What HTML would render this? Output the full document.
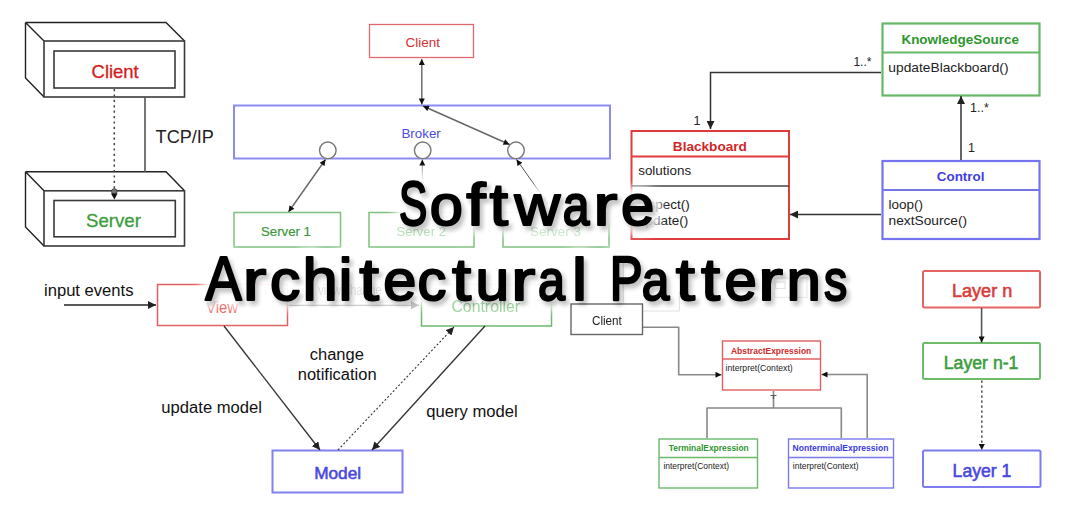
<!DOCTYPE html>
<html><head><meta charset="utf-8">
<style>
html,body{margin:0;padding:0;background:#fff;}
body{width:1080px;height:516px;overflow:hidden;position:relative;font-family:"Liberation Sans",sans-serif;}
svg{position:absolute;left:0;top:0;}
.t{font-family:"Liberation Sans",sans-serif;}
.tl{position:absolute;left:0;top:0;}
.tl text{vector-effect:non-scaling-stroke;}
</style></head>
<body>
<svg width="1080" height="516" viewBox="0 0 1080 516">
<defs>
<marker id="ah" viewBox="0 0 10 10" refX="10" refY="5" markerWidth="8" markerHeight="8" markerUnits="userSpaceOnUse" orient="auto-start-reverse"><path d="M0,0 L10,5 L0,10 z" fill="#222"/></marker>
<marker id="ahs" viewBox="0 0 10 10" refX="10" refY="5" markerWidth="6.5" markerHeight="6" markerUnits="userSpaceOnUse" orient="auto-start-reverse"><path d="M0,0 L10,5 L0,10 z" fill="#111"/></marker>
<marker id="ahl" viewBox="0 0 10 10" refX="10" refY="5" markerWidth="8" markerHeight="8" markerUnits="userSpaceOnUse" orient="auto-start-reverse"><path d="M0,0 L10,5 L0,10 z" fill="#c8c8c8"/></marker>
</defs>
<g fill="none" stroke="#3a3a3a" stroke-width="1.6">
<!-- client 3d -->
<path d="M25.5,22.5 H166 L184.5,41 M25.5,22.5 L44,41 M25.5,22.5 V78 L44,97" stroke="#222" stroke-width="1.4"/>
<rect x="44" y="41" width="140.5" height="56"/>
<rect x="54" y="51" width="121" height="37"/>
<!-- server 3d -->
<path d="M25.5,171.8 H166 L184.5,190.8 M25.5,171.8 L44,190.8 M25.5,171.8 V227 L44,246" stroke="#222" stroke-width="1.4"/>
<rect x="44" y="190.8" width="140.5" height="55.2"/>
<rect x="54" y="200.5" width="121.3" height="36.3"/>
<line x1="145" y1="97" x2="145" y2="172" stroke="#555"/>
<line x1="114.3" y1="89" x2="114.3" y2="189" stroke="#444" stroke-width="1.5" stroke-dasharray="2.2,3.2"/>
</g>
<circle cx="114.3" cy="191.5" r="2.8" fill="#777" stroke="#333" stroke-width="0.8"/>
<path d="M111,193.5 L117.6,193.5 L114.3,199.5 z" fill="#111"/>

<!-- broker -->
<rect x="369.5" y="24.5" width="104" height="33" fill="none" stroke="#e06a6a" stroke-width="1.3"/>
<rect x="234" y="105.5" width="376" height="53" fill="none" stroke="#8c8cf0" stroke-width="2"/>
<g fill="#fff" stroke="#777" stroke-width="1.4">
<circle cx="327.8" cy="150.3" r="8.3"/>
<circle cx="422.7" cy="150.3" r="8.3"/>
<circle cx="516" cy="150.3" r="8.3"/>
</g>
<g stroke="#666" stroke-width="1.4" fill="none">
<line x1="421.8" y1="59" x2="421.8" y2="104.5" marker-start="url(#ahs)" marker-end="url(#ahs)"/>
<line x1="423" y1="106" x2="509.5" y2="144.5" marker-start="url(#ahs)" marker-end="url(#ahs)"/>
<line x1="325.5" y1="159.5" x2="288.5" y2="212" marker-start="url(#ahs)" marker-end="url(#ahs)"/>
<line x1="422.3" y1="212" x2="422.3" y2="159.5" marker-end="url(#ahs)" stroke="#999" stroke-width="1"/>
<line x1="548" y1="204" x2="516.5" y2="159.5" marker-end="url(#ahs)" stroke="#555" stroke-width="1"/>
</g>
<g fill="none" stroke="#7ec07e" stroke-width="1.5">
<rect x="234" y="212.5" width="106.5" height="34.5"/>
<rect x="369" y="212.5" width="105" height="34.5"/>
<rect x="503" y="212.5" width="106" height="34.5"/>
</g>

<!-- blackboard -->
<g fill="none" stroke-width="2">
<rect x="631.5" y="131" width="157.5" height="108" stroke="#e03c3c"/>
<line x1="631.5" y1="156.5" x2="789" y2="156.5" stroke="#e03c3c"/>
<line x1="631.5" y1="186" x2="789" y2="186" stroke="#444" stroke-width="1.4"/>
<rect x="882.5" y="23.5" width="157" height="72" stroke="#66b866" stroke-width="2.2"/>
<line x1="882.5" y1="52.5" x2="1039.5" y2="52.5" stroke="#66b866" stroke-width="2.2"/>
<rect x="882.5" y="161" width="157" height="78" stroke="#7474ec" stroke-width="2.2"/>
<line x1="882.5" y1="190" x2="1039.5" y2="190" stroke="#7474ec" stroke-width="2.2"/>
</g>
<g stroke="#333" stroke-width="1.5" fill="none">
<path d="M881,72.5 H710.5 V129" marker-end="url(#ah)"/>
<line x1="961" y1="160" x2="961" y2="96" marker-end="url(#ah)"/>
<line x1="881" y1="214.5" x2="790" y2="214.5" marker-end="url(#ah)"/>
</g>

<!-- MVC -->
<line x1="64" y1="305" x2="156" y2="305" stroke="#222" stroke-width="1.5" marker-end="url(#ah)"/>
<rect x="157.5" y="284.5" width="130" height="41" fill="none" stroke="#e06060" stroke-width="1.5"/>
<rect x="421.5" y="284.5" width="130" height="41.5" fill="none" stroke="#6cb86c" stroke-width="1.5"/>

<rect x="272.5" y="450.5" width="130" height="42" fill="none" stroke="#8080ee" stroke-width="2"/>
<g stroke="#333" stroke-width="1.35" fill="none">
<line x1="224" y1="326" x2="320" y2="450" marker-end="url(#ah)"/>
<line x1="485" y1="326" x2="372" y2="450" marker-end="url(#ah)"/>
<line x1="338" y1="450" x2="454" y2="327" stroke-dasharray="2,2" stroke-width="1.1" marker-end="url(#ah)"/>
</g>

<!-- interpreter -->
<g stroke="#888" stroke-width="1.6" fill="none" stroke-linejoin="round">
<path d="M643,327.3 H678.7 V374.8 H721.5" marker-end="url(#ahs)"/>
<path d="M867.2,438 V374.5 H821.5" marker-end="url(#ahs)"/>
<path d="M773.5,391 V408 M707,438 V408 H841.3 V438"/>
</g>
<path d="M770.5,395.5 H776.5 M773.5,395.5 V399" stroke="#555" stroke-width="1.2"/>
<g fill="none" stroke-width="1.4">
<rect x="722.5" y="341" width="98" height="49" stroke="#e06060"/>
<line x1="722.5" y1="359" x2="820.5" y2="359" stroke="#e06060"/>
<rect x="659" y="439" width="98.5" height="49" stroke="#6cb86c"/>
<line x1="659" y1="457.5" x2="757.5" y2="457.5" stroke="#6cb86c"/>
<rect x="788.5" y="439" width="105" height="49" stroke="#7a7aee"/>
<line x1="788.5" y1="457.5" x2="893.5" y2="457.5" stroke="#7a7aee"/>
</g>

<!-- layers -->
<g fill="none" stroke-width="2">
<rect x="923" y="271" width="117" height="36.5" rx="1.5" stroke="#e46464"/>
<rect x="923" y="343" width="117" height="36" rx="1.5" stroke="#6cbc6c"/>
<rect x="923" y="450.5" width="117.5" height="36.5" rx="1.5" stroke="#7c7cee"/>
</g>
<line x1="981.6" y1="308" x2="981.6" y2="342.5" stroke="#555" stroke-width="1.6" marker-end="url(#ahs)"/>
<line x1="981.8" y1="380.5" x2="981.8" y2="450" stroke="#555" stroke-width="1.6" stroke-dasharray="2.2,2.8" marker-end="url(#ahs)"/>

<text class="t" id="c3c" x="91.60" y="77.7" font-size="18.5" font-weight="normal" fill="#d42020" textLength="47.11" lengthAdjust="spacingAndGlyphs" stroke="#d42020" stroke-width="0.3">Client</text>
<text class="t" id="c3s" x="85.99" y="226.7" font-size="18.5" font-weight="normal" fill="#3c9c3c" textLength="55.00" lengthAdjust="spacingAndGlyphs" stroke="#3c9c3c" stroke-width="0.3">Server</text>
<text class="t" id="tcp" x="155.59" y="142.7" font-size="18.5" font-weight="normal" fill="#222" textLength="58.33" lengthAdjust="spacingAndGlyphs">TCP/IP</text>
<text class="t" id="bcl" x="405.60" y="47" font-size="13.5" font-weight="normal" fill="#d83030" textLength="34.42" lengthAdjust="spacingAndGlyphs">Client</text>
<text class="t" id="brk" x="401.41" y="137.7" font-size="13.5" font-weight="normal" fill="#4a4ae6" textLength="39.37" lengthAdjust="spacingAndGlyphs">Broker</text>
<text class="t" id="sv1" x="261.02" y="235.6" font-size="13.5" font-weight="normal" fill="#3c9a3c" textLength="49.91" lengthAdjust="spacingAndGlyphs" stroke="#3c9a3c" stroke-width="0.2">Server 1</text>
<text class="t" id="bbt" x="672.80" y="150.9" font-size="13.5" font-weight="bold" fill="#d02828" textLength="74.14" lengthAdjust="spacingAndGlyphs">Blackboard</text>
<text class="t" id="sol" x="638.20" y="175.4" font-size="13.5" font-weight="normal" fill="#222" textLength="53.00" lengthAdjust="spacingAndGlyphs">solutions</text>
<text class="t" id="ins" x="638.00" y="208.8" font-size="13.5" font-weight="normal" fill="#222">inspect()</text>
<text class="t" id="upd" x="638.00" y="224.9" font-size="13.5" font-weight="normal" fill="#222">update()</text>
<text class="t" id="kst" x="901.40" y="43.7" font-size="13.5" font-weight="bold" fill="#2e962e" textLength="117.68" lengthAdjust="spacingAndGlyphs">KnowledgeSource</text>
<text class="t" id="ubb" x="888.39" y="71.5" font-size="13.5" font-weight="normal" fill="#222" textLength="120.14" lengthAdjust="spacingAndGlyphs">updateBlackboard()</text>
<text class="t" id="ctl" x="936.80" y="180.6" font-size="13.5" font-weight="bold" fill="#4040e0" textLength="47.70" lengthAdjust="spacingAndGlyphs">Control</text>
<text class="t" id="lop" x="888.60" y="209.4" font-size="13.5" font-weight="normal" fill="#222">loop()</text>
<text class="t" id="nxs" x="888.60" y="224.9" font-size="13.5" font-weight="normal" fill="#222" textLength="78.50" lengthAdjust="spacingAndGlyphs">nextSource()</text>
<text class="t" id="m1a" x="853.43" y="65.5" font-size="12.5" font-weight="normal" fill="#222" textLength="18.04" lengthAdjust="spacingAndGlyphs">1..*</text>
<text class="t" id="m1b" x="693.60" y="124.5" font-size="12.5" font-weight="normal" fill="#222">1</text>
<text class="t" id="m2a" x="970.00" y="111.7" font-size="12.5" font-weight="normal" fill="#222">1..*</text>
<text class="t" id="m2b" x="968.00" y="152" font-size="12.5" font-weight="normal" fill="#222">1</text>
<text class="t" id="inp" x="43.98" y="295.75" font-size="16" font-weight="normal" fill="#111" textLength="89.54" lengthAdjust="spacingAndGlyphs">input events</text>
<text class="t" id="viw" x="206.00" y="312.5" font-size="16" font-weight="normal" fill="#ee5c5c" textLength="32.18" lengthAdjust="spacingAndGlyphs">View</text>
<text class="t" id="mdl" x="314.19" y="478.9" font-size="17" font-weight="normal" fill="#4848e0" textLength="46.93" lengthAdjust="spacingAndGlyphs" stroke="#4848e0" stroke-width="0.55">Model</text>
<text class="t" id="chg" x="309.78" y="360.4" font-size="16" font-weight="normal" fill="#111" textLength="54.12" lengthAdjust="spacingAndGlyphs">change</text>
<text class="t" id="ntf" x="297.78" y="380" font-size="16" font-weight="normal" fill="#111" textLength="78.82" lengthAdjust="spacingAndGlyphs">notification</text>
<text class="t" id="upm" x="161.37" y="412.7" font-size="16" font-weight="normal" fill="#111" textLength="100.61" lengthAdjust="spacingAndGlyphs">update model</text>
<text class="t" id="qry" x="426.39" y="417" font-size="16" font-weight="normal" fill="#111" textLength="91.39" lengthAdjust="spacingAndGlyphs">query model</text>
<text class="t" id="abs" x="730.99" y="353.5" font-size="8.6" font-weight="bold" fill="#d02828" textLength="80.31" lengthAdjust="spacingAndGlyphs">AbstractExpression</text>
<text class="t" id="in1" x="725.60" y="371.3" font-size="8.7" font-weight="normal" fill="#222" textLength="67.11" lengthAdjust="spacingAndGlyphs">interpret(Context)</text>
<text class="t" id="ter" x="668.79" y="451.3" font-size="8.6" font-weight="bold" fill="#2e962e" textLength="79.93" lengthAdjust="spacingAndGlyphs">TerminalExpression</text>
<text class="t" id="in2" x="663.39" y="468.8" font-size="8.7" font-weight="normal" fill="#222" textLength="65.82" lengthAdjust="spacingAndGlyphs">interpret(Context)</text>
<text class="t" id="non" x="792.60" y="451.3" font-size="8.6" font-weight="bold" fill="#3a3ae0" textLength="95.77" lengthAdjust="spacingAndGlyphs">NonterminalExpression</text>
<text class="t" id="in3" x="792.80" y="468.8" font-size="8.7" font-weight="normal" fill="#222" textLength="65.82" lengthAdjust="spacingAndGlyphs">interpret(Context)</text>
<text class="t" id="lyn" x="951.97" y="297.1" font-size="17.5" font-weight="normal" fill="#dc3a3a" textLength="60.32" lengthAdjust="spacingAndGlyphs" stroke="#dc3a3a" stroke-width="0.55">Layer n</text>
<text class="t" id="ly1n" x="943.79" y="368.5" font-size="17.5" font-weight="normal" fill="#3c9c3c" textLength="74.65" lengthAdjust="spacingAndGlyphs" stroke="#3c9c3c" stroke-width="0.55">Layer n-1</text>
<text class="t" id="ly1" x="952.60" y="477" font-size="17.5" font-weight="normal" fill="#4848e0" textLength="58.78" lengthAdjust="spacingAndGlyphs" stroke="#4848e0" stroke-width="0.55">Layer 1</text>
</svg>
<svg class="tl" width="1080" height="516"><defs><filter id="hb" x="-20%" y="-50%" width="140%" height="200%"><feGaussianBlur stdDeviation="4"/></filter></defs><g font-family="Liberation Sans" font-size="63" fill="#fff" stroke="#fff" stroke-width="18" stroke-linejoin="round" filter="url(#hb)" opacity="0.95" style="vector-effect:non-scaling-stroke"><text transform="translate(398.94,224.6) scale(0.6720,0.99)">S</text>
<text transform="translate(429.63,224.6) scale(0.9443,0.905)">o</text>
<text transform="translate(466.37,224.6) scale(1.1086,0.95)">f</text>
<text transform="translate(489.48,224.6) scale(1.0629,0.95)">t</text>
<text transform="translate(514.50,224.6) scale(1.0043,0.905)">w</text>
<text transform="translate(562.64,224.6) scale(0.7612,0.905)">a</text>
<text transform="translate(593.13,224.6) scale(1.1576,0.905)">r</text>
<text transform="translate(621.11,224.6) scale(0.9508,0.905)">e</text>
<text transform="translate(205.23,300.2) scale(0.8675,0.99)">A</text>
<text transform="translate(242.76,300.2) scale(1.1273,0.905)">r</text>
<text transform="translate(270.09,300.2) scale(0.9600,0.905)">c</text>
<text transform="translate(302.38,300.2) scale(1.0036,0.95)">h</text>
<text transform="translate(338.50,300.2) scale(1.0000,0.95)">i</text>
<text transform="translate(359.37,300.2) scale(1.1257,0.95)">t</text>
<text transform="translate(383.33,300.2) scale(0.9443,0.905)">e</text>
<text transform="translate(417.59,300.2) scale(0.9164,0.905)">c</text>
<text transform="translate(451.88,300.2) scale(1.0971,0.95)">t</text>
<text transform="translate(475.53,300.2) scale(0.9600,0.905)">u</text>
<text transform="translate(511.00,300.2) scale(1.1636,0.905)">r</text>
<text transform="translate(537.92,300.2) scale(0.7701,0.905)">a</text>
<text transform="translate(571.64,300.2) scale(1.1077,0.95)">l</text>
<text transform="translate(609.72,300.2) scale(0.7826,0.99)">P</text>
<text transform="translate(641.68,300.2) scale(0.7881,0.905)">a</text>
<text transform="translate(675.68,300.2) scale(1.0971,0.95)">t</text>
<text transform="translate(700.98,300.2) scale(1.0914,0.95)">t</text>
<text transform="translate(724.48,300.2) scale(0.9213,0.905)">e</text>
<text transform="translate(757.88,300.2) scale(1.1939,0.905)">r</text>
<text transform="translate(786.38,300.2) scale(0.9818,0.905)">n</text>
<text transform="translate(823.93,300.2) scale(0.7368,0.905)">s</text></g></svg>
<svg width="1080" height="516" viewBox="0 0 1080 516">
<g fill="none" stroke="#e2e2e2" stroke-width="1.2">
<path d="M623.3,262 V311 H679.4 V292"/>
<rect x="774.5" y="278" width="32.5" height="19.5" stroke="#ececec"/>
<rect x="775.5" y="282" width="9.5" height="6.5" stroke="#e4e4e4"/>
</g>
<rect x="571" y="304" width="71.5" height="30.5" fill="#fff" stroke="#666" stroke-width="1.4"/>
<defs><marker id="ahl2" viewBox="0 0 10 10" refX="10" refY="5" markerWidth="8" markerHeight="8" markerUnits="userSpaceOnUse" orient="auto"><path d="M0,0 L10,5 L0,10 z" fill="#c4c4c4"/></marker></defs>
<line x1="289" y1="305.3" x2="419" y2="305.3" stroke="#cfcfcf" stroke-width="1.3" marker-end="url(#ahl2)"/>
<text class="t" id="sv2" x="396.41" y="236" font-size="13.5" font-weight="normal" fill="#b8dfb8" textLength="49.53" lengthAdjust="spacingAndGlyphs">Server 2</text>
<text class="t" id="sv3" x="530.00" y="236" font-size="13.5" font-weight="normal" fill="#cce8cc" textLength="51.03" lengthAdjust="spacingAndGlyphs">Server 3</text>
<text class="t" id="cnt" x="451.40" y="311.6" font-size="16" font-weight="normal" fill="#a0d4a0" textLength="68.67" lengthAdjust="spacingAndGlyphs">Controller</text>
<text class="t" id="vch" x="318.00" y="294.5" font-size="14" font-weight="normal" fill="#e2e2e2" textLength="63.86" lengthAdjust="spacingAndGlyphs">view change</text>
<text class="t" id="icl" x="592.00" y="324.5" font-size="12.5" font-weight="normal" fill="#222" textLength="29.84" lengthAdjust="spacingAndGlyphs">Client</text>
</svg>
<svg class="tl" width="1080" height="516"><defs><filter id="sh" x="-20%" y="-50%" width="140%" height="200%"><feGaussianBlur stdDeviation="2.2"/></filter></defs>
<g font-family="Liberation Sans" font-size="63" fill="#000" stroke="#000" stroke-width="2.5" stroke-linejoin="round" opacity="0.24" filter="url(#sh)" transform="translate(3,4)"><text transform="translate(398.94,224.6) scale(0.6720,0.99)">S</text>
<text transform="translate(429.63,224.6) scale(0.9443,0.905)">o</text>
<text transform="translate(466.37,224.6) scale(1.1086,0.95)">f</text>
<text transform="translate(489.48,224.6) scale(1.0629,0.95)">t</text>
<text transform="translate(514.50,224.6) scale(1.0043,0.905)">w</text>
<text transform="translate(562.64,224.6) scale(0.7612,0.905)">a</text>
<text transform="translate(593.13,224.6) scale(1.1576,0.905)">r</text>
<text transform="translate(621.11,224.6) scale(0.9508,0.905)">e</text>
<text transform="translate(205.23,300.2) scale(0.8675,0.99)">A</text>
<text transform="translate(242.76,300.2) scale(1.1273,0.905)">r</text>
<text transform="translate(270.09,300.2) scale(0.9600,0.905)">c</text>
<text transform="translate(302.38,300.2) scale(1.0036,0.95)">h</text>
<text transform="translate(338.50,300.2) scale(1.0000,0.95)">i</text>
<text transform="translate(359.37,300.2) scale(1.1257,0.95)">t</text>
<text transform="translate(383.33,300.2) scale(0.9443,0.905)">e</text>
<text transform="translate(417.59,300.2) scale(0.9164,0.905)">c</text>
<text transform="translate(451.88,300.2) scale(1.0971,0.95)">t</text>
<text transform="translate(475.53,300.2) scale(0.9600,0.905)">u</text>
<text transform="translate(511.00,300.2) scale(1.1636,0.905)">r</text>
<text transform="translate(537.92,300.2) scale(0.7701,0.905)">a</text>
<text transform="translate(571.64,300.2) scale(1.1077,0.95)">l</text>
<text transform="translate(609.72,300.2) scale(0.7826,0.99)">P</text>
<text transform="translate(641.68,300.2) scale(0.7881,0.905)">a</text>
<text transform="translate(675.68,300.2) scale(1.0971,0.95)">t</text>
<text transform="translate(700.98,300.2) scale(1.0914,0.95)">t</text>
<text transform="translate(724.48,300.2) scale(0.9213,0.905)">e</text>
<text transform="translate(757.88,300.2) scale(1.1939,0.905)">r</text>
<text transform="translate(786.38,300.2) scale(0.9818,0.905)">n</text>
<text transform="translate(823.93,300.2) scale(0.7368,0.905)">s</text></g>
<g font-family="Liberation Sans" font-size="63" fill="#000" stroke="#000" stroke-width="2.1" stroke-linejoin="round"><text transform="translate(398.94,224.6) scale(0.6720,0.99)">S</text>
<text transform="translate(429.63,224.6) scale(0.9443,0.905)">o</text>
<text transform="translate(466.37,224.6) scale(1.1086,0.95)">f</text>
<text transform="translate(489.48,224.6) scale(1.0629,0.95)">t</text>
<text transform="translate(514.50,224.6) scale(1.0043,0.905)">w</text>
<text transform="translate(562.64,224.6) scale(0.7612,0.905)">a</text>
<text transform="translate(593.13,224.6) scale(1.1576,0.905)">r</text>
<text transform="translate(621.11,224.6) scale(0.9508,0.905)">e</text>
<text transform="translate(205.23,300.2) scale(0.8675,0.99)">A</text>
<text transform="translate(242.76,300.2) scale(1.1273,0.905)">r</text>
<text transform="translate(270.09,300.2) scale(0.9600,0.905)">c</text>
<text transform="translate(302.38,300.2) scale(1.0036,0.95)">h</text>
<text transform="translate(338.50,300.2) scale(1.0000,0.95)">i</text>
<text transform="translate(359.37,300.2) scale(1.1257,0.95)">t</text>
<text transform="translate(383.33,300.2) scale(0.9443,0.905)">e</text>
<text transform="translate(417.59,300.2) scale(0.9164,0.905)">c</text>
<text transform="translate(451.88,300.2) scale(1.0971,0.95)">t</text>
<text transform="translate(475.53,300.2) scale(0.9600,0.905)">u</text>
<text transform="translate(511.00,300.2) scale(1.1636,0.905)">r</text>
<text transform="translate(537.92,300.2) scale(0.7701,0.905)">a</text>
<text transform="translate(571.64,300.2) scale(1.1077,0.95)">l</text>
<text transform="translate(609.72,300.2) scale(0.7826,0.99)">P</text>
<text transform="translate(641.68,300.2) scale(0.7881,0.905)">a</text>
<text transform="translate(675.68,300.2) scale(1.0971,0.95)">t</text>
<text transform="translate(700.98,300.2) scale(1.0914,0.95)">t</text>
<text transform="translate(724.48,300.2) scale(0.9213,0.905)">e</text>
<text transform="translate(757.88,300.2) scale(1.1939,0.905)">r</text>
<text transform="translate(786.38,300.2) scale(0.9818,0.905)">n</text>
<text transform="translate(823.93,300.2) scale(0.7368,0.905)">s</text></g></svg>
</body></html>
